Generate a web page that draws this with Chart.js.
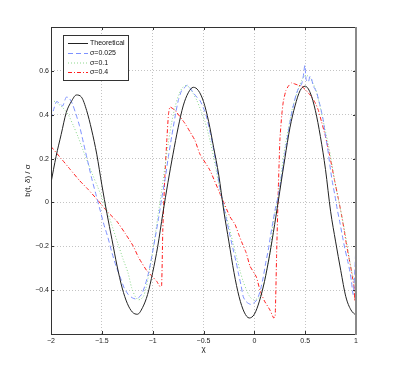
<!DOCTYPE html>
<html>
<head>
<meta charset="utf-8">
<script src="https://cdn.jsdelivr.net/npm/chart.js@4"></script>
<style>
  html, body { margin: 0; padding: 0; background: #fff; }
  #wrap { width: 393px; height: 378px; }
</style>
</head>
<body>
<div id="wrap"><canvas id="myChart" width="393" height="378"></canvas></div>
<script>
// theoretical curve
const theoX = [-2, -1.95, -1.9, -1.85, -1.8, -1.75, -1.7, -1.65, -1.6, -1.55, -1.5, -1.45, -1.4, -1.35, -1.3, -1.25, -1.2, -1.15, -1.1, -1.05, -1, -0.95, -0.9, -0.85, -0.8, -0.75, -0.7, -0.65, -0.6, -0.55, -0.5, -0.45, -0.4, -0.35, -0.3, -0.25, -0.2, -0.15, -0.1, -0.05, 0, 0.05, 0.1, 0.15, 0.2, 0.25, 0.3, 0.35, 0.4, 0.45, 0.5, 0.55, 0.6, 0.65, 0.7, 0.75, 0.8, 0.85, 0.9, 0.95, 1];
const theoY = [0.09, 0.21, 0.31, 0.41, 0.46, 0.49, 0.48, 0.42, 0.33, 0.22, 0.08, -0.05, -0.17, -0.29, -0.39, -0.46, -0.5, -0.51, -0.48, -0.42, -0.32, -0.2, -0.05, 0.09, 0.22, 0.34, 0.44, 0.5, 0.525, 0.51, 0.46, 0.37, 0.25, 0.125, -0.04, -0.18, -0.32, -0.43, -0.5, -0.527, -0.51, -0.45, -0.36, -0.24, -0.1, 0.05, 0.2, 0.34, 0.44, 0.51, 0.53, 0.5, 0.42, 0.3, 0.15, -0.04, -0.18, -0.31, -0.43, -0.49, -0.515];

// sigma = 0.025
const s1X = [-2, -1.97, -1.945, -1.91, -1.885, -1.85, -1.82, -1.79, -1.76, -1.72, -1.68, -1.64, -1.6, -1.56, -1.52, -1.48, -1.44, -1.4, -1.36, -1.32, -1.28, -1.24, -1.2, -1.17, -1.14, -1.11, -1.076, -1.04, -1.01, -0.975, -0.945, -0.91, -0.88, -0.845, -0.813, -0.78, -0.748, -0.715, -0.682, -0.66, -0.63, -0.6, -0.565, -0.535, -0.5, -0.47, -0.435, -0.404, -0.37, -0.34, -0.305, -0.273, -0.24, -0.207, -0.18, -0.158, -0.13, -0.109, -0.085, -0.06, -0.035, -0.01, 0.015, 0.039, 0.065, 0.088, 0.11, 0.137, 0.16, 0.186, 0.21, 0.236, 0.26, 0.285, 0.31, 0.334, 0.36, 0.383, 0.41, 0.432, 0.45, 0.465, 0.48, 0.497, 0.51, 0.53, 0.548, 0.563, 0.58, 0.596, 0.615, 0.63, 0.645, 0.662, 0.68, 0.694, 0.72, 0.743, 0.765, 0.792, 0.815, 0.84, 0.865, 0.89, 0.915, 0.94, 0.955, 0.972, 0.98, 0.99, 1];
const s1Y = [0.38, 0.43, 0.46, 0.45, 0.44, 0.48, 0.475, 0.45, 0.41, 0.35, 0.27, 0.19, 0.11, 0.04, -0.03, -0.1, -0.16, -0.23, -0.29, -0.34, -0.39, -0.42, -0.435, -0.44, -0.435, -0.42, -0.38, -0.32, -0.25, -0.16, -0.08, 0.02, 0.1, 0.21, 0.3, 0.39, 0.465, 0.51, 0.525, 0.535, 0.52, 0.5, 0.48, 0.465, 0.43, 0.39, 0.32, 0.25, 0.16, 0.07, -0.01, -0.08, -0.15, -0.217, -0.27, -0.32, -0.38, -0.43, -0.45, -0.46, -0.465, -0.46, -0.45, -0.43, -0.39, -0.34, -0.28, -0.217, -0.15, -0.08, -0.02, 0.03, 0.1, 0.17, 0.25, 0.32, 0.39, 0.44, 0.49, 0.518, 0.53, 0.54, 0.57, 0.625, 0.56, 0.548, 0.575, 0.563, 0.53, 0.518, 0.5, 0.47, 0.445, 0.41, 0.37, 0.32, 0.25, 0.17, 0.1, 0.033, -0.03, -0.088, -0.15, -0.21, -0.26, -0.315, -0.36, -0.42, -0.38, -0.3, -0.18];

// sigma = 0.1
const s2X = [-2, -1.96, -1.93, -1.88, -1.83, -1.78, -1.735, -1.686, -1.636, -1.59, -1.54, -1.49, -1.44, -1.39, -1.34, -1.29, -1.243, -1.206, -1.17, -1.14, -1.115, -1.092, -1.065, -1.043, -1.01, -0.977, -0.945, -0.911, -0.88, -0.847, -0.815, -0.78, -0.745, -0.715, -0.69, -0.666, -0.63, -0.6, -0.565, -0.535, -0.486, -0.435, -0.385, -0.338, -0.273, -0.207, -0.142, -0.11, -0.076, -0.045, -0.01, 0.025, 0.055, 0.09, 0.121, 0.155, 0.186, 0.22, 0.25, 0.27, 0.3, 0.334, 0.37, 0.4, 0.435, 0.465, 0.49, 0.514, 0.54, 0.563, 0.6, 0.63, 0.66, 0.694, 0.73, 0.76, 0.79, 0.825, 0.86, 0.89, 0.915, 0.94, 0.965, 0.99, 1];
const s2Y = [0.465, 0.46, 0.45, 0.43, 0.4, 0.35, 0.3, 0.24, 0.18, 0.125, 0.07, 0.01, -0.05, -0.12, -0.19, -0.26, -0.32, -0.39, -0.43, -0.444, -0.44, -0.43, -0.39, -0.34, -0.25, -0.156, -0.05, 0.056, 0.16, 0.27, 0.36, 0.435, 0.49, 0.518, 0.53, 0.533, 0.52, 0.495, 0.465, 0.43, 0.37, 0.28, 0.17, 0.056, -0.065, -0.19, -0.31, -0.36, -0.4, -0.43, -0.444, -0.44, -0.43, -0.38, -0.31, -0.23, -0.09, -0.01, 0.07, 0.15, 0.25, 0.336, 0.42, 0.47, 0.52, 0.556, 0.575, 0.58, 0.57, 0.556, 0.52, 0.47, 0.41, 0.336, 0.26, 0.185, 0.1, 0.018, -0.06, -0.134, -0.2, -0.27, -0.33, -0.376, -0.4];

// sigma = 0.4
const s3X = [-2, -1.9, -1.81, -1.72, -1.636, -1.54, -1.44, -1.354, -1.272, -1.19, -1.14, -1.06, -1.01, -0.96, -0.928, -0.912, -0.9, -0.88, -0.86, -0.845, -0.83, -0.78, -0.73, -0.682, -0.63, -0.584, -0.535, -0.437, -0.338, -0.24, -0.19, -0.158, -0.125, -0.08, -0.043, 0.02, 0.055, 0.1, 0.153, 0.19, 0.205, 0.219, 0.236, 0.252, 0.27, 0.285, 0.31, 0.334, 0.365, 0.4, 0.43, 0.465, 0.5, 0.53, 0.565, 0.596, 0.63, 0.662, 0.695, 0.727, 0.76, 0.792, 0.825, 0.858, 0.885, 0.907, 0.93, 0.956, 0.982, 0.99, 0.995, 1];
const s3Y = [0.255, 0.2, 0.15, 0.1, 0.06, 0.01, -0.045, -0.085, -0.14, -0.2, -0.25, -0.31, -0.335, -0.36, -0.384, -0.38, -0.12, 0.12, 0.29, 0.4, 0.435, 0.42, 0.39, 0.36, 0.32, 0.283, 0.22, 0.147, 0.04, -0.065, -0.1, -0.14, -0.18, -0.23, -0.29, -0.34, -0.4, -0.45, -0.49, -0.527, -0.52, -0.24, 0.064, 0.29, 0.4, 0.46, 0.51, 0.53, 0.545, 0.54, 0.535, 0.53, 0.515, 0.5, 0.48, 0.457, 0.42, 0.366, 0.31, 0.245, 0.17, 0.094, 0.02, -0.058, -0.13, -0.194, -0.25, -0.315, -0.39, -0.45, -0.3, -0.2];

const seriesLabels = ['Theoretical', '\u03c3=0.025', '\u03c3=0.1', '\u03c3=0.4'];

function pts(xs, ys) {
  return xs.map((x, i) => ({ x: x, y: ys[i] }));
}

function fmt(v) {
  const n = Number(v.toFixed(1));
  if (n === 0) return '0';
  return n < 0 ? '\u2212' + Math.abs(n) : String(n);
}

Chart.defaults.font.family = '"Liberation Sans", Arial, sans-serif';
Chart.defaults.color = '#222';

// box round the axes, inward tick marks, legend box inside the plot
const matlabFrame = {
  id: 'matlabFrame',
  afterDatasetsDraw(chart) {
    const ctx = chart.ctx;
    const a = chart.chartArea;
    const xs = chart.scales.x, ys = chart.scales.y;
    ctx.save();
    ctx.strokeStyle = '#333';
    ctx.lineWidth = 1;
    ctx.setLineDash([]);
    ctx.beginPath();
    xs.ticks.forEach(t => {
      const p = Math.round(xs.getPixelForValue(t.value)) + 0.5;
      ctx.moveTo(p, a.bottom); ctx.lineTo(p, a.bottom - 3);
      ctx.moveTo(p, a.top); ctx.lineTo(p, a.top + 3);
    });
    ys.ticks.forEach(t => {
      const p = Math.round(ys.getPixelForValue(t.value)) + 0.5;
      ctx.moveTo(a.left, p); ctx.lineTo(a.left + 3, p);
      ctx.moveTo(a.right, p); ctx.lineTo(a.right - 3, p);
    });
    ctx.stroke();

    ctx.beginPath();
    ctx.moveTo(a.right, a.top + 0.5);
    ctx.lineTo(a.left + 0.5, a.top + 0.5);
    ctx.lineTo(a.left + 0.5, a.bottom + 0.5);
    ctx.lineTo(a.right, a.bottom + 0.5);
    ctx.stroke();
    ctx.strokeStyle = '#8a8a8a';
    ctx.lineWidth = 2;
    ctx.beginPath();
    ctx.moveTo(a.right, a.top);
    ctx.lineTo(a.right, a.bottom + 1);
    ctx.stroke();

    // legend
    const bx = 63.5, by = 35.5, bw = 65, bh = 45;
    ctx.fillStyle = '#fff';
    ctx.fillRect(bx, by, bw, bh);
    ctx.strokeStyle = '#333';
    ctx.lineWidth = 1;
    ctx.strokeRect(bx, by, bw, bh);
    ctx.font = '7px "Liberation Sans", Arial, sans-serif';
    ctx.textBaseline = 'middle';
    ctx.fillStyle = '#111';
    const rows = [43.5, 53.5, 63, 72.5];
    chart.data.datasets.forEach((ds, i) => {
      ctx.strokeStyle = ds.borderColor;
      ctx.lineWidth = ds.borderWidth;
      ctx.setLineDash(ds.borderDash || []);
      ctx.beginPath();
      ctx.moveTo(68, rows[i]);
      ctx.lineTo(88, rows[i]);
      ctx.stroke();
      ctx.setLineDash([]);
      ctx.fillText(ds.label, 90, rows[i]);
    });
    ctx.restore();
  }
};

const ctx = document.getElementById('myChart');
new Chart(ctx, {
  type: 'line',
  data: {
    datasets: [
      { label: seriesLabels[0], data: pts(theoX, theoY), borderColor: '#222', borderWidth: 1,
        cubicInterpolationMode: 'monotone', pointRadius: 0 },
      { label: seriesLabels[1], data: pts(s1X, s1Y), borderColor: 'rgb(125,145,255)', borderWidth: 1,
        borderDash: [5, 3], tension: 0.25, pointRadius: 0 },
      { label: seriesLabels[2], data: pts(s2X, s2Y), borderColor: 'rgb(140,215,140)', borderWidth: 1,
        borderDash: [1, 2], tension: 0.25, pointRadius: 0 },
      { label: seriesLabels[3], data: pts(s3X, s3Y), borderColor: 'rgb(255,30,30)', borderWidth: 1,
        borderDash: [4, 2, 1, 2], tension: 0.15, pointRadius: 0 }
    ]
  },
  options: {
    responsive: false,
    animation: false,
    layout: { padding: { left: 18, top: 27, right: 37, bottom: 22 } },
    plugins: { legend: { display: false }, tooltip: { enabled: false } },
    scales: {
      x: {
        type: 'linear', min: -2, max: 1,
        afterFit: s => { s.height = 22; },
        ticks: { stepSize: 0.5, font: { size: 7 }, padding: 3, maxRotation: 0, callback: v => fmt(v) },
        grid: { color: '#c4c4c4', lineWidth: 1, drawTicks: false },
        border: { display: false, dash: [1, 2] },
        title: { display: true, text: '\u03c7', font: { size: 8 }, padding: { top: 0, bottom: 2 } }
      },
      y: {
        type: 'linear', min: -0.6, max: 0.8,
        afterFit: s => { s.width = 33; },
        ticks: { stepSize: 0.2, font: { size: 7 }, padding: 2,
          callback: v => (Math.abs(v + 0.6) < 1e-6 || Math.abs(v - 0.8) < 1e-6) ? '' : fmt(v) },
        grid: { color: '#c4c4c4', lineWidth: 1, drawTicks: false },
        border: { display: false, dash: [1, 2] },
        title: { display: true, text: 'b(t, \u03b4) / \u03c3', font: { size: 8 }, padding: { top: 5, bottom: 0 } }
      }
    }
  },
  plugins: [matlabFrame]
});
</script>
</body>
</html>
